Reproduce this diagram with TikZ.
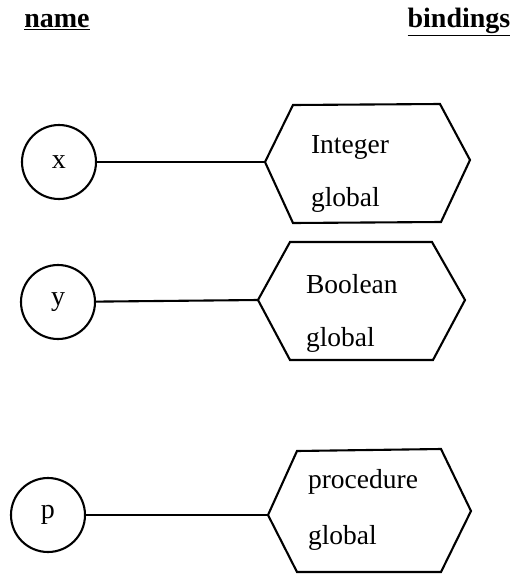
\documentclass[tikz,border=0pt]{standalone}
\usepackage{fontspec}
\setmainfont{Liberation Serif}
\begin{document}
\begin{tikzpicture}[x=1pt,y=-1pt,line width=2.1pt,
  txt/.style={font=\fontsize{27.5}{30}\selectfont, inner sep=0pt},
  head/.style={font=\fontsize{28}{30}\selectfont\bfseries, inner sep=0pt},
  namecirc/.style={circle, draw, minimum size=74pt, inner sep=0pt, font=\fontsize{28}{30}\selectfont},
  hexa/.style={draw, line join=miter}]
\useasboundingbox (0,0) rectangle (513,574);
% headings
\node[head] (hname) at (57,22) {\underline{name}};
\node[head] (hbind) at (459,22) {\underline{bindings}};
% row 1
\node[namecirc] (x) at (59,162) {x};
\coordinate (h1) at (265,162);
\draw[hexa] (h1) -- (293,105) -- (440,104) -- (470,160) -- (441,222) -- (293,223) -- cycle;
\node[txt, anchor=west] (t1a) at (310,147) {Integer};
\node[txt, anchor=west] (t1b) at (310,200) {global};
\draw (x) -- (h1);
% row 2
\node[namecirc] (y) at (58,302) {y};
\coordinate (h2) at (258,300);
\draw[hexa] (h2) -- (290,242) -- (432,242) -- (465,300) -- (433,360) -- (290,360) -- cycle;
\node[txt, anchor=west] (t2a) at (305,284) {Boolean};
\node[txt, anchor=west] (t2b) at (305,340) {global};
\draw (y) -- (h2);
% row 3
\node[namecirc] (p) at (48,515) {p};
\coordinate (h3) at (268,515);
\draw[hexa] (h3) -- (297,451) -- (441,449) -- (471,511) -- (441,572) -- (297,572) -- cycle;
\node[txt, anchor=west] (t3a) at (307,482) {procedure};
\node[txt, anchor=west] (t3b) at (307,538) {global};
\draw (p) -- (h3);
\end{tikzpicture}
\end{document}
